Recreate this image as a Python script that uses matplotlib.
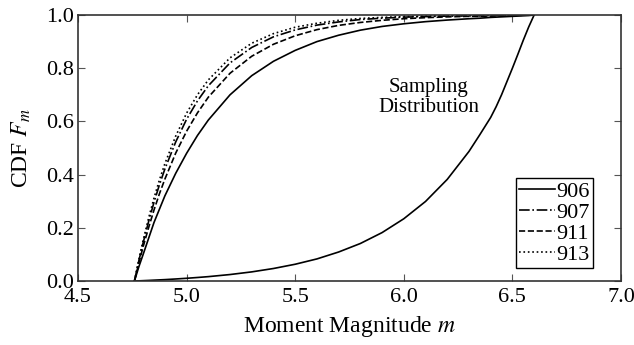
import numpy as np
import matplotlib
matplotlib.use('Agg')
import matplotlib.pyplot as plt

plt.rcParams['font.family'] = ['Liberation Serif', 'DejaVu Serif']
plt.rcParams['mathtext.fontset'] = 'stix'

# moment magnitude grid
m = [4.76, 4.78, 4.80, 4.825, 4.85, 4.875, 4.90, 4.95, 5.00, 5.05, 5.10,
     5.20, 5.30, 5.40, 5.50, 5.60, 5.70, 5.80, 5.90, 6.00, 6.10, 6.20,
     6.30, 6.35, 6.40, 6.425, 6.45, 6.475, 6.50, 6.525, 6.55, 6.575, 6.60]

cdf_906 = [0.0, 0.053, 0.10, 0.16, 0.22, 0.27, 0.32, 0.405, 0.48, 0.547,
           0.605, 0.70, 0.772, 0.826, 0.867, 0.90, 0.924, 0.943, 0.957,
           0.967, 0.975, 0.981, 0.986, 0.988, 0.991, 0.992, 0.993, 0.994,
           0.995, 0.996, 0.997, 0.998, 1.0]
cdf_907 = [0.0, 0.075, 0.144, 0.223, 0.296, 0.362, 0.421, 0.523, 0.608,
           0.677, 0.734, 0.82, 0.878, 0.918, 0.944, 0.962, 0.974, 0.983,
           0.988, 0.992, 0.994, 0.996, 0.997, 0.997, 0.998, 0.998, 0.999,
           0.999, 0.999, 1.0, 1.0, 1.0, 1.0]
cdf_911 = [0.0, 0.067, 0.129, 0.2, 0.267, 0.328, 0.383, 0.481, 0.563,
           0.632, 0.691, 0.781, 0.845, 0.89, 0.922, 0.945, 0.961, 0.972,
           0.98, 0.986, 0.99, 0.993, 0.995, 0.995, 0.996, 0.997, 0.997,
           0.998, 0.998, 0.999, 0.999, 1.0, 1.0]
cdf_913 = [0.0, 0.08, 0.153, 0.236, 0.312, 0.38, 0.441, 0.545, 0.631,
           0.7, 0.756, 0.839, 0.894, 0.93, 0.954, 0.969, 0.98, 0.987,
           0.991, 0.994, 0.996, 0.997, 0.998, 0.998, 0.999, 0.999, 0.999,
           1.0, 1.0, 1.0, 1.0, 1.0, 1.0]
cdf_sampling = [0.0, 0.0006, 0.0013, 0.0022, 0.0032, 0.0042, 0.0052,
                0.0076, 0.0102, 0.0132, 0.0164, 0.0243, 0.0343, 0.047,
                0.063, 0.083, 0.109, 0.141, 0.182, 0.234, 0.299, 0.382,
                0.487, 0.55, 0.615, 0.655, 0.70, 0.75, 0.80, 0.852, 0.905,
                0.955, 1.0]

labels = ['906', '907', '911', '913']
styles = ['-', '-.', '--', ':']

fig = plt.figure(figsize=(6.34, 3.45), dpi=100)
ax = fig.add_axes([0.123, 0.1855, 0.8565, 0.771])

for y, lab, ls in zip([cdf_906, cdf_907, cdf_911, cdf_913], labels, styles):
    ax.plot(m, y, color='black', linestyle=ls, linewidth=1.2, label=lab)
ax.plot(m, cdf_sampling, color='black', linestyle='-', linewidth=1.2)

ax.text(6.115, 0.69, 'Sampling\nDistribution', ha='center', va='center',
        fontsize=15, linespacing=1.1)

ax.set_xlim(4.5, 7.0)
ax.set_ylim(0.0, 1.0)
ax.set_xticks([4.5, 5.0, 5.5, 6.0, 6.5, 7.0])
ax.set_yticks([0.0, 0.2, 0.4, 0.6, 0.8, 1.0])
ax.xaxis.set_major_formatter(matplotlib.ticker.FormatStrFormatter('%.1f'))
ax.yaxis.set_major_formatter(matplotlib.ticker.FormatStrFormatter('%.1f'))
ax.tick_params(direction='in', top=True, right=True, length=5, width=0.8,
               labelsize=16, color='#555555')
ax.tick_params(axis='x', pad=5)
ax.tick_params(axis='y', pad=3)
for s in ax.spines.values():
    s.set_linewidth(1.2)
    s.set_color('#333333')

ax.set_xlabel('Moment Magnitude $m$', fontsize=17, labelpad=5)
ax.set_ylabel('CDF $F_m$', fontsize=17, labelpad=9)

leg = ax.legend(loc='lower right', bbox_to_anchor=(0.948, 0.049),
                borderaxespad=0, fontsize=16, handlelength=1.6,
                handletextpad=0.05, labelspacing=0.02, borderpad=0.15,
                fancybox=False, framealpha=1)
leg.get_frame().set_edgecolor('black')
leg.get_frame().set_linewidth(1.0)

fig.savefig('out.png', dpi=100)
